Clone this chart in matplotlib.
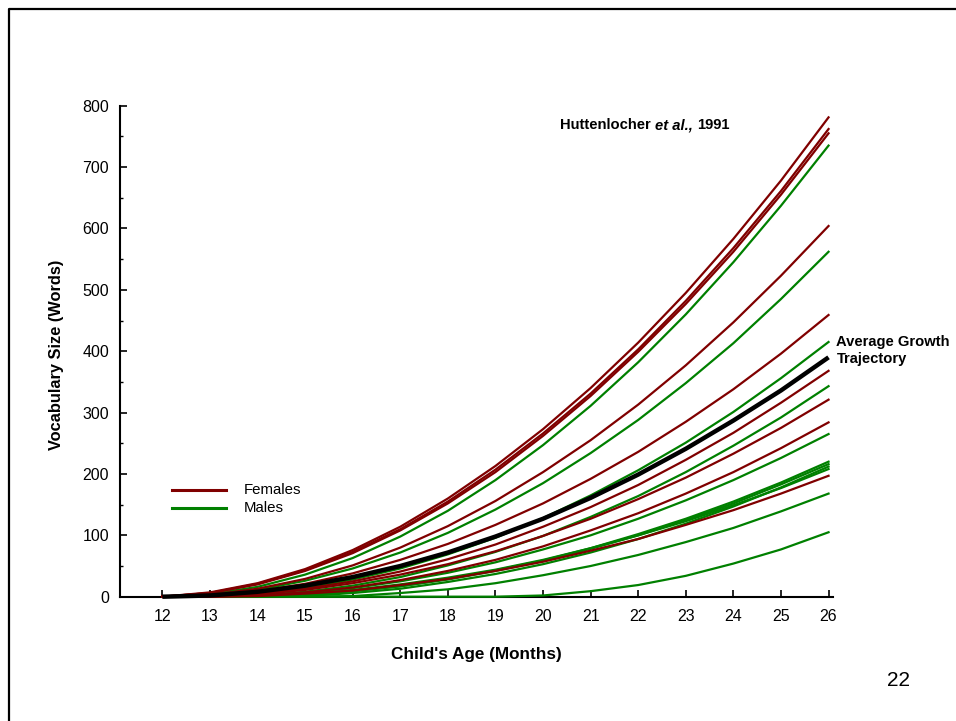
import matplotlib
matplotlib.use("Agg")
import matplotlib.pyplot as plt
from matplotlib.lines import Line2D
from matplotlib.ticker import MultipleLocator

plt.rcParams["font.family"] = ["Liberation Sans", "DejaVu Sans"]

W, H = 956, 721

ages = list(range(12, 27))

# vocabulary size read at each month, 12..26
females = [
    [0, 7, 22, 45, 76, 114, 160, 213, 273, 340, 414, 495, 583, 678, 781],
    [0, 6, 21, 43, 73, 110, 155, 207, 266, 331, 403, 482, 568, 661, 762],
    [0, 6, 20, 42, 71, 108, 152, 203, 262, 327, 399, 477, 562, 655, 755],
    [0, 3, 13, 29, 51, 80, 115, 156, 203, 255, 313, 377, 447, 523, 604],
    [0, 2, 9, 21, 38, 60, 86, 117, 152, 192, 236, 285, 338, 396, 459],
    [0, 1, 5, 13, 25, 41, 61, 85, 114, 146, 182, 223, 267, 316, 368],
    [0, 0, 4, 11, 22, 36, 53, 74, 99, 127, 159, 194, 233, 275, 321],
    [0, 0, 2, 7, 15, 27, 42, 60, 82, 108, 136, 168, 203, 242, 284],
    [0, 0, 1, 5, 10, 19, 29, 42, 57, 75, 94, 117, 141, 168, 197],
]

males = [
    [0, 4, 16, 36, 63, 98, 140, 190, 247, 311, 382, 460, 545, 637, 735],
    [0, 3, 11, 26, 46, 72, 104, 142, 185, 234, 288, 348, 413, 485, 562],
    [0, 1, 5, 14, 28, 46, 69, 96, 128, 165, 206, 251, 301, 356, 415],
    [0, 0, 2, 8, 18, 32, 51, 73, 99, 130, 164, 203, 246, 292, 343],
    [0, 0, 2, 6, 14, 25, 39, 56, 77, 100, 127, 157, 190, 226, 265],
    [0, 0, 0, 3, 9, 17, 29, 43, 59, 79, 102, 127, 155, 186, 220],
    [0, 0, 0, 3, 9, 17, 28, 42, 58, 78, 100, 125, 152, 183, 216],
    [0, 0, 0, 1, 6, 13, 24, 37, 53, 72, 94, 119, 147, 178, 212],
    [0, 0, 1, 5, 11, 20, 31, 44, 60, 79, 100, 123, 149, 177, 208],
    [0, 0, 0, 0, 1, 6, 12, 22, 35, 50, 68, 89, 112, 139, 168],
    [0, 0, 0, 0, 0, 0, 0, 0, 2, 9, 19, 34, 54, 77, 105],
]

average = [0, 2, 8, 18, 32, 50, 72, 98, 127, 161, 199, 241, 287, 336, 390]

RED = "#800000"
GREEN = "#008000"


def fx(px):
    return px / W


def fy(py):
    return 1 - py / H


fig = plt.figure(figsize=(W / 100, H / 100), dpi=100)
ax = fig.add_axes([fx(120), fy(596.7), fx(833.3) - fx(120), fy(105.7) - fy(596.7)])

for vals in males:
    ax.plot(ages, vals, color=GREEN, linewidth=1.6, clip_on=False, zorder=3)
for vals in females:
    ax.plot(ages, vals, color=RED, linewidth=1.6, clip_on=False, zorder=3)
ax.plot(ages, average, color="black", linewidth=3.2, clip_on=False, zorder=4,
        solid_capstyle="butt")

ax.set_xlim(11.11, 26.1)
ax.set_ylim(0, 800)
ax.set_xticks(ages)
ax.yaxis.set_major_locator(MultipleLocator(100))
ax.yaxis.set_minor_locator(MultipleLocator(50))

for side in ["top", "right"]:
    ax.spines[side].set_visible(False)
for side in ["left", "bottom"]:
    ax.spines[side].set_linewidth(1.5)

ax.tick_params(axis="both", which="major", direction="in", length=5, width=1.2,
               labelsize=11.5, colors="black")
ax.tick_params(axis="x", which="major", pad=9)
ax.tick_params(axis="y", which="major", pad=8)
ax.tick_params(axis="y", which="minor", direction="in", length=2.5, width=1)

fig.text(fx(476), fy(654), "Child's Age (Months)", fontsize=12.3, fontweight="bold",
         ha="center", va="center")
fig.text(fx(57), fy(355), "Vocabulary Size (Words)", fontsize=11.8, fontweight="bold",
         ha="center", va="center", rotation=90)

fig.text(fx(836.5), fy(341.7), "Average Growth", fontsize=10.6, fontweight="bold",
         ha="left", va="center")
fig.text(fx(836.5), fy(359.3), "Trajectory", fontsize=10.6, fontweight="bold",
         ha="left", va="center")

# citation, with the italic part in the middle
r = fig.canvas.get_renderer()
t1 = fig.text(fx(560), fy(125), "Huttenlocher", fontsize=10.6, fontweight="bold",
              ha="left", va="center")
bb = t1.get_window_extent(r)
t2 = fig.text((bb.x1 + 4) / W, fy(125), "et al.,", fontsize=10.6, fontweight="bold",
              style="italic", ha="left", va="center")
bb = t2.get_window_extent(r)
fig.text((bb.x1 + 4) / W, fy(125), "1991", fontsize=10.6, fontweight="bold",
         ha="left", va="center")

# legend
fig.add_artist(Line2D([fx(172), fx(226)], [fy(490), fy(490)], color=RED, linewidth=2.2))
fig.add_artist(Line2D([fx(172), fx(226)], [fy(508), fy(508)], color=GREEN, linewidth=2.2))
fig.text(fx(244), fy(490), "Females", fontsize=10.8, ha="left", va="center")
fig.text(fx(244), fy(508), "Males", fontsize=10.8, ha="left", va="center")

fig.text(fx(899), fy(680), "22", fontsize=15, ha="center", va="center")

# slide frame
fig.add_artist(Line2D([fx(8.5), fx(8.5), fx(W + 5)], [fy(H + 5), fy(9), fy(9)],
                      color="black", linewidth=1.6))

fig.savefig("out.png", dpi=100)
